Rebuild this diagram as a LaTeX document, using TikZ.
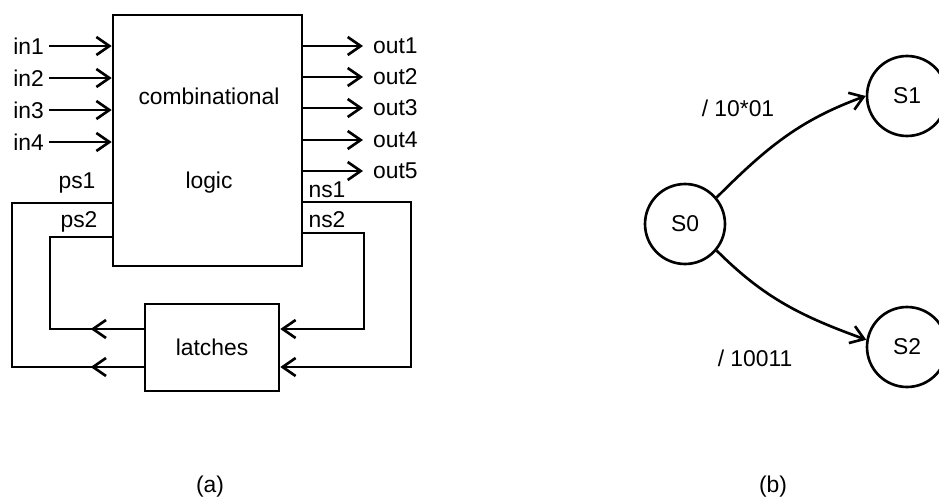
\documentclass[tikz,border=0pt]{standalone}
\usepackage{fontspec}
\setmainfont{Liberation Sans}
\usetikzlibrary{arrows.meta, positioning, calc}
\tikzset{
  blk/.style={rectangle, draw, line width=1.5pt, inner sep=0pt,
              font=\fontsize{13}{15}\selectfont},
  sig/.style={font=\fontsize{13}{15}\selectfont, inner sep=1pt},
  wire/.style={line width=1.5pt},
  arr/.style={wire, -{Straight Barb[length=0.26cm, width=0.36cm]}},
  st/.style={circle, draw, line width=1.5pt, minimum size=1.6cm,
             inner sep=0pt, font=\fontsize{13}{15}\selectfont},
}

\begin{document}
\begin{tikzpicture}[x=0.02cm, y=-0.02cm]
  \useasboundingbox (0,0) rectangle (939,500);

  % (a) circuit
  \node[blk, minimum width=3.78cm, minimum height=5.02cm] (cl) at (207.5,140.5) {};
  \node[sig] (cltop) at (209,96)  {combinational};
  \node[sig] (clbot) at (209,183) {logic};
  \node[blk, minimum width=2.68cm, minimum height=1.74cm] (lat) at (212,347.5) {latches};

  \foreach \i/\y in {1/46, 2/78, 3/110, 4/142} {
    \node[sig, anchor=east] (in\i) at (46,\y) {in\i};
    \draw[arr, shorten <=0.06cm] (in\i.east) -- (in\i.east -| cl.west);
  }
  \foreach \i/\y in {1/46, 2/77, 3/108, 4/140, 5/171} {
    \node[sig, anchor=west] (out\i) at (371,\y) {out\i};
    \draw[arr, shorten >=0.16cm] (out\i.west -| cl.east) -- (out\i.west);
  }

  \coordinate (ps1) at (cl.west |- 0,203);
  \coordinate (ps2) at (cl.west |- 0,237);
  \coordinate (ns1) at (cl.east |- 0,202);
  \coordinate (ns2) at (cl.east |- 0,233);
  \coordinate (c1) at (12,367);
  \coordinate (c2) at (50,329);
  \coordinate (c3) at (411,367);
  \coordinate (c4) at (364,329);

  \node[sig] (lps1) at (77,183) {ps1};
  \node[sig] (lps2) at (79,222) {ps2};
  \node[sig] (lns1) at (327,190) {ns1};
  \node[sig] (lns2) at (327,220) {ns2};

  \draw[wire] (lat.west |- c1) -- (c1) |- (ps1);
  \draw[arr]  (lat.west |- c1) -- ++(-53,0);
  \draw[wire] (lat.west |- c2) -- (c2) |- (ps2);
  \draw[arr]  (lat.west |- c2) -- ++(-53,0);
  \draw[arr] (ns1) -| (c3) -- (lat.east |- c3);
  \draw[arr] (ns2) -| (c4) -- (lat.east |- c4);

  \node[sig] (capa) at (210,487) {(a)};

  % (b) state graph
  \node[st] (s0) at (685,224) {S0};
  \node[st] (s1) at (907,96)  {S1};
  \node[st] (s2) at (907,347) {S2};

  \draw[arr] (s0.40)  to[out=45, in=200]  (s1.west);
  \draw[arr] (s0.-40) to[out=-45, in=160] (s2.170);
  \node[sig] (e1) at (738,108) {/ 10*01};
  \node[sig] (e2) at (755,358) {/ 10011};

  \node[sig] (capb) at (773,487) {(b)};
\end{tikzpicture}
\end{document}
